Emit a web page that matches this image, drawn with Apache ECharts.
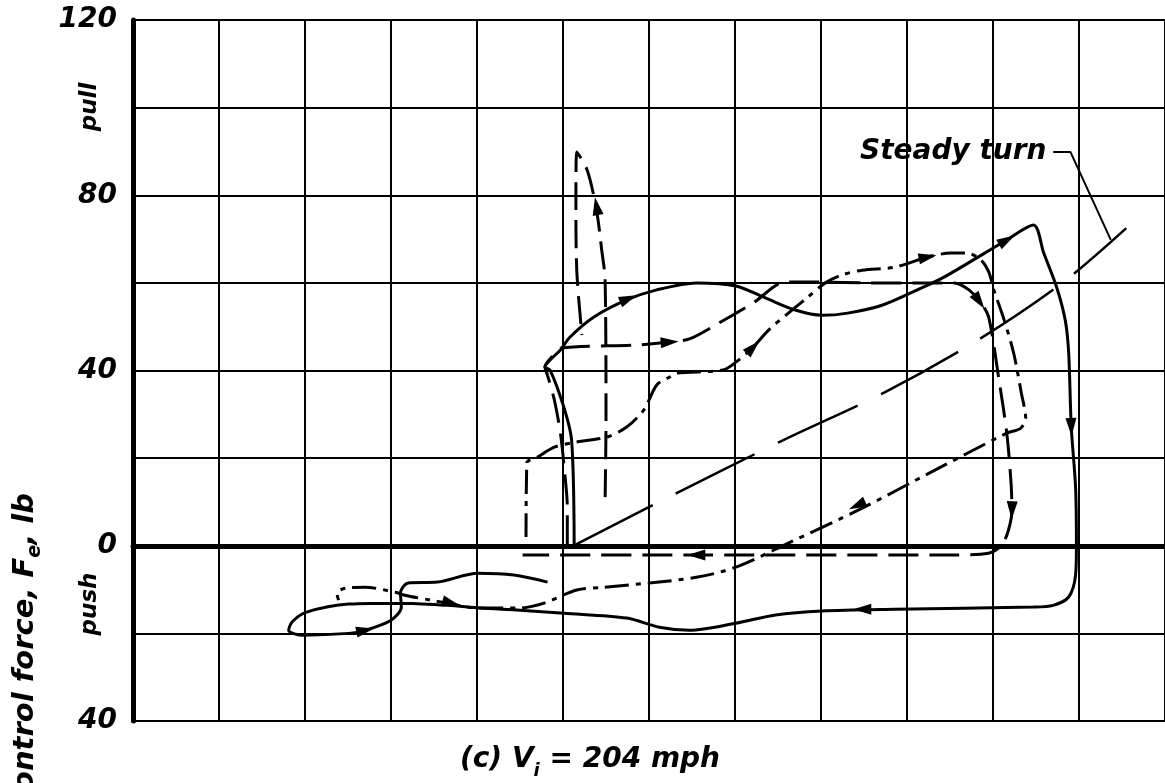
<!DOCTYPE html>
<html>
<head>
<meta charset="utf-8">
<script src="https://cdn.jsdelivr.net/npm/echarts@6/dist/echarts.min.js"></script>
<style>
html, body { margin: 0; padding: 0; background: #fff; }
#chart { width: 1165px; height: 783px; }
</style>
</head>
<body>
<div id="chart"></div>
<script>
// x is in grid squares (the original has no x labels), y is control force in lb
const solidTrace = [
  [5.13, 0.1], [5.10, 24.1], [5.01, 31.6], [4.85, 40.1], [4.79, 40.8], [4.85, 42.4],
  [4.97, 44.7], [5.08, 47.6], [5.36, 52.2], [5.74, 56.1], [6.09, 58.4], [6.55, 60.0],
  [7.01, 59.3], [7.36, 56.5], [7.70, 53.8], [8.01, 52.6], [8.31, 53.1], [8.71, 54.9],
  [9.12, 58.4], [9.43, 61.3], [10.16, 69.8], [10.47, 73.2], [10.59, 66.8], [10.74, 59.0],
  [10.84, 51.5], [10.88, 44.0], [10.91, 27.1], [10.96, 13.4], [10.97, -0.3], [10.96, -6.7],
  [10.88, -11.7], [10.70, -13.6], [10.47, -14.0], [8.86, -14.5], [8.01, -14.9], [7.47, -15.8],
  [7.01, -17.7], [6.47, -19.3], [6.12, -18.6], [5.74, -16.5], [5.01, -15.4], [4.50, -14.7],
  [4.04, -14.2], [3.66, -13.6], [3.12, -13.1], [2.51, -13.3], [2.01, -15.2], [1.85, -17.4],
  [1.81, -19.3], [1.96, -20.4], [2.51, -20.0], [2.70, -19.3], [3.00, -17.0], [3.12, -14.0],
  [3.11, -10.8], [3.20, -8.5], [3.54, -8.3], [4.01, -6.3], [4.43, -6.7], [4.82, -8.3]
];

const dashTrace = [
  [5.05, 0.1], [5.05, 8.8], [5.02, 16.6], [4.97, 25.7], [4.90, 33.2], [4.82, 38.9],
  [4.79, 40.8], [4.87, 43.1], [4.97, 45.1], [5.85, 45.8], [6.24, 46.5], [6.47, 47.2],
  [6.81, 50.8], [7.21, 55.4], [7.59, 60.2], [7.97, 60.2], [8.55, 60.0], [9.28, 60.0],
  [9.55, 60.0], [9.72, 58.4], [9.86, 55.4], [9.95, 52.2], [10.07, 37.8], [10.16, 25.7],
  [10.21, 14.3], [10.22, 8.1], [10.18, 3.6], [10.10, 0.1], [9.95, -1.7], [9.55, -2.1],
  [6.55, -2.1], [4.53, -2.1]
];

const dashDotTrace = [
  [4.57, 2.0], [4.58, 18.9], [4.70, 20.2], [4.90, 22.5], [5.16, 23.7], [5.51, 24.8],
  [5.74, 27.1], [5.94, 31.0], [6.09, 36.7], [6.24, 38.5], [6.32, 39.4], [6.86, 40.1],
  [7.01, 41.9], [7.21, 45.3], [7.39, 49.2], [7.62, 53.1], [7.85, 56.8], [8.05, 60.0],
  [8.24, 61.8], [8.48, 62.9], [8.86, 63.6], [9.24, 65.9], [9.51, 66.8], [9.70, 66.8],
  [9.86, 65.2], [9.95, 62.5], [10.01, 58.4], [10.13, 51.5], [10.24, 44.0], [10.33, 34.8],
  [10.38, 29.1], [10.32, 26.8], [10.16, 25.7], [9.28, 16.8], [8.48, 8.6], [7.62, 0.6],
  [7.01, -4.9], [6.55, -7.2], [6.00, -8.5], [5.47, -9.5], [5.16, -10.1], [4.78, -13.1],
  [4.50, -14.2], [4.01, -14.2], [3.66, -13.1], [3.46, -12.4], [3.16, -11.3], [3.05, -10.6],
  [2.70, -9.5], [2.47, -9.7], [2.37, -10.8], [2.39, -12.4]
];

const spikeTrace = [
  [5.49, 11.1], [5.50, 28.7], [5.49, 60.6], [5.45, 67.5], [5.39, 76.6], [5.28, 85.8],
  [5.16, 89.9], [5.15, 78.9], [5.16, 62.9], [5.22, 48.1]
];

const steadyTurn = [
  [5.13, 0.1], [6.23, 11.1], [7.54, 23.9], [8.74, 35.0], [9.82, 46.9], [10.82, 60.2], [11.55, 72.5]
];

const steadyLeader = [[10.70, 89.9], [10.90, 89.9], [11.37, 69.8]];

// arrowheads: x, y, direction in degrees (0 = right, 90 = up)
const arrows = [
  [5.76, 56.4, 23], [10.16, 69.8, 30], [10.91, 27.1, -88], [8.48, -14.5, 180],
  [2.70, -19.3, 12], [6.24, 46.5, 4], [9.84, 55.8, -55], [10.22, 8.1, -92],
  [6.55, -2.1, 180], [9.24, 65.9, 12], [7.21, 45.3, 45], [8.42, 9.2, -155],
  [5.39, 77.5, 100], [3.70, -13.1, -15]
];

const yLabels = [-40, 0, 40, 80, 120];

const chart = echarts.init(document.getElementById('chart'));
const ink = '#000';
const font = 'DejaVu Sans';

function trace(data, type, width) {
  return {
    type: 'line',
    data: data,
    showSymbol: false,
    smooth: 0.3,
    lineStyle: { color: ink, width: width, type: type },
    z: 3
  };
}

const option = {
  animation: false,
  backgroundColor: '#fff',
  grid: { left: 133, top: 20, right: -7, bottom: 62 },
  xAxis: {
    type: 'value',
    min: 0,
    max: 12,
    interval: 1,
    axisLine: { show: true, onZero: true, lineStyle: { color: ink, width: 5 } },
    axisTick: { show: false },
    axisLabel: { show: false },
    splitLine: { show: true, lineStyle: { color: ink, width: 2 } }
  },
  yAxis: {
    type: 'value',
    min: -40,
    max: 120,
    interval: 20,
    axisLine: { show: true, lineStyle: { color: ink, width: 5 } },
    axisTick: { show: false },
    splitLine: { show: true, lineStyle: { color: ink, width: 2 } },
    axisLabel: {
      margin: 16,
      color: ink,
      fontFamily: font,
      fontStyle: 'italic',
      fontWeight: 'bold',
      fontSize: 28,
      formatter: function (v) { return yLabels.indexOf(v) >= 0 ? String(Math.abs(v)) : ''; }
    }
  },
  series: [
    trace(solidTrace, 'solid', 3),
    trace(dashTrace, [30, 11], 3),
    trace(dashDotTrace, [24, 7, 5, 7], 3),
    trace(spikeTrace, [28, 10], 3),
    trace(steadyTurn, [88, 26], 2.5),
    { type: 'line', data: steadyLeader, showSymbol: false, lineStyle: { color: ink, width: 2 }, z: 3 },
    {
      type: 'scatter',
      symbol: 'triangle',
      symbolSize: [11, 18],
      itemStyle: { color: ink, opacity: 1 },
      z: 4,
      data: arrows.map(a => ({ value: [a[0], a[1]], symbolRotate: a[2] - 90 }))
    }
  ],
  graphic: [
    {
      type: 'text', x: 25, y: 493, rotation: Math.PI / 2,
      style: {
        text: '{a|Elevator control force, F}{s|e}{a|, lb}',
        align: 'right', verticalAlign: 'middle', fill: ink,
        rich: {
          a: { fontFamily: font, fontStyle: 'italic', fontWeight: 'bold', fontSize: 29, lineHeight: 40 },
          s: { fontFamily: font, fontStyle: 'italic', fontWeight: 'bold', fontSize: 19, lineHeight: 40, verticalAlign: 'bottom', padding: [14, 0, 0, 0] }
        }
      }
    },
    {
      type: 'text', x: 90, y: 107, rotation: Math.PI / 2,
      style: { text: 'pull', align: 'center', verticalAlign: 'middle', fill: ink, font: 'italic bold 23px "DejaVu Sans"' }
    },
    {
      type: 'text', x: 90, y: 604, rotation: Math.PI / 2,
      style: { text: 'push', align: 'center', verticalAlign: 'middle', fill: ink, font: 'italic bold 23px "DejaVu Sans"' }
    },
    {
      type: 'text', x: 860, y: 152,
      style: { text: 'Steady turn', align: 'left', verticalAlign: 'middle', fill: ink, font: 'italic bold 28px "DejaVu Sans"' }
    },
    {
      type: 'text', x: 590, y: 760,
      style: {
        text: '{a|(c) V}{s|i}{a| = 204 mph}',
        align: 'center', verticalAlign: 'middle', fill: ink,
        rich: {
          a: { fontFamily: font, fontStyle: 'italic', fontWeight: 'bold', fontSize: 28, lineHeight: 40 },
          s: { fontFamily: font, fontStyle: 'italic', fontWeight: 'bold', fontSize: 18, lineHeight: 40, verticalAlign: 'bottom', padding: [14, 0, 0, 0] }
        }
      }
    }
  ]
};

chart.setOption(option);
</script>
</body>
</html>
